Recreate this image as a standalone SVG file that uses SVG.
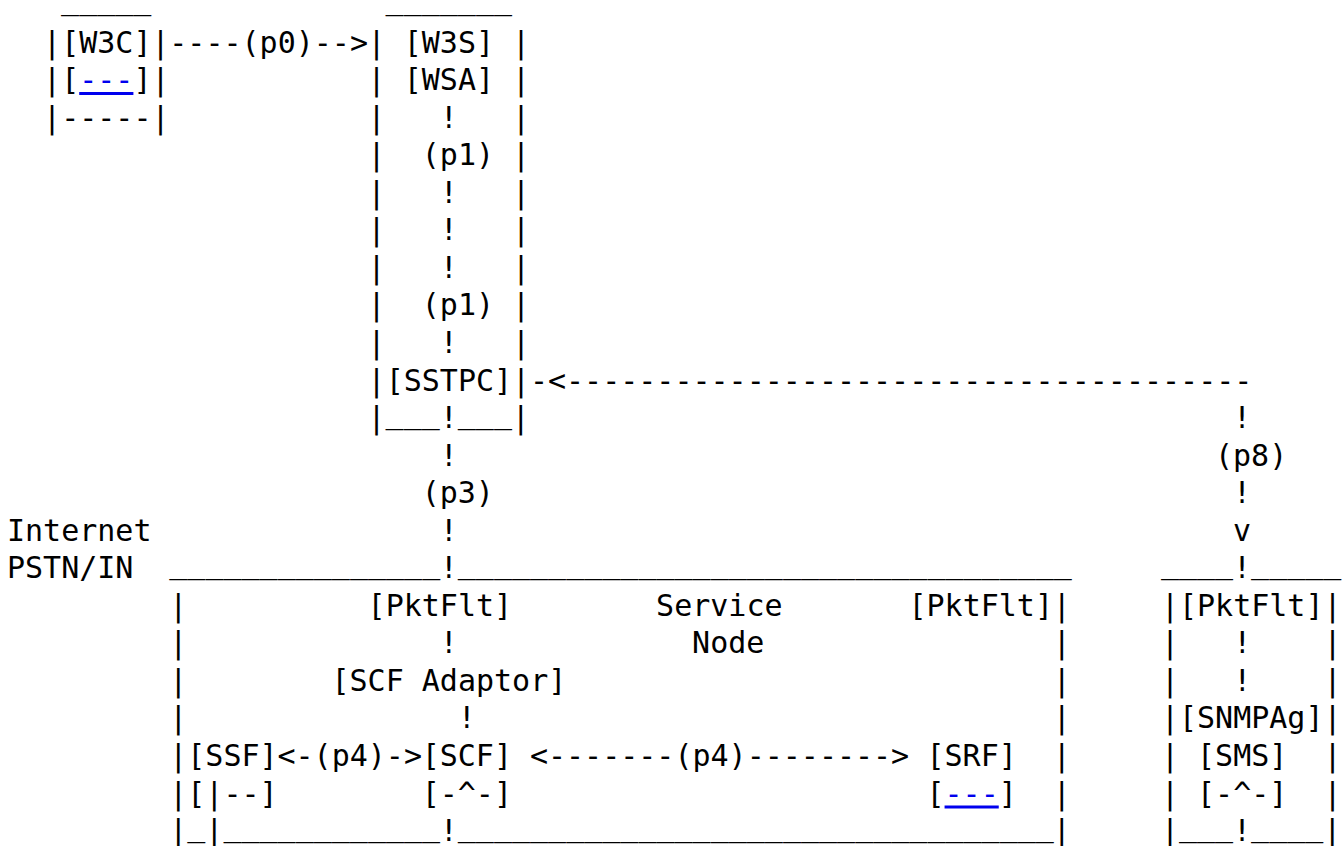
<svg xmlns="http://www.w3.org/2000/svg" width="1343" height="846" viewBox="0 0 1343 846" xml:space="preserve">
<style>
text { font-family: "DejaVu Sans Mono", "Liberation Mono", monospace; font-size: 30px; fill: #000; white-space: pre; }
.link { fill: #0000ee; text-decoration: underline; }
</style>
<rect width="1343" height="846" fill="#fff"/>

<!-- W3C client box -->
<g id="w3c">
<text x="61.1" y="9">_____</text>
<text x="43.1" y="52.5">|[W3C]|</text>
<text x="43.1" y="90">|[<tspan class="link">---</tspan>]|</text>
<text x="43.1" y="127.6">|-----|</text>
</g>

<!-- Web server box: W3S / WSA down to SSTPC -->
<g id="w3s-box">
<text x="385.6" y="9">_______</text>
<text x="367.6" y="52.5">| [W3S] |</text>
<text x="367.6" y="90">| [WSA] |</text>
<text x="367.6" y="127.6">|   !   |</text>
<text x="367.6" y="165.2">|  (p1) |</text>
<text x="367.6" y="202.7">|   !   |</text>
<text x="367.6" y="240.3">|   !   |</text>
<text x="367.6" y="277.8">|   !   |</text>
<text x="367.6" y="315.4">|  (p1) |</text>
<text x="367.6" y="352.9">|   !   |</text>
<g id="sstpc"><text x="367.6" y="390.5">|[SSTPC]|</text></g>
<text x="367.6" y="428">|</text>
<text x="385.6" y="423">___</text>
<text x="439.7" y="428">!</text>
<text x="457.8" y="423">___</text>
<text x="511.8" y="428">|</text>
</g>

<!-- Domain labels -->
<g id="domains">
<text x="7" y="540.7">Internet</text>
<text x="7" y="578.2">PSTN/IN</text>
</g>

<!-- Service node -->
<g id="service-node">
<text x="169.3" y="573.2">_______________</text>
<text x="457.8" y="573.2">__________________________________</text>
<text x="169.3" y="615.8">|<tspan x="169.3" y="653.3">|</tspan><tspan x="169.3" y="690.9">|</tspan><tspan x="169.3" y="728.4">|</tspan><tspan x="169.3" y="766">|</tspan><tspan x="169.3" y="803.5">|</tspan><tspan x="169.3" y="841.1">|</tspan></text>
<text x="1052.7" y="615.8">|<tspan x="1052.7" y="653.3">|</tspan><tspan x="1052.7" y="690.9">|</tspan><tspan x="1052.7" y="728.4">|</tspan><tspan x="1052.7" y="766">|</tspan><tspan x="1052.7" y="803.5">|</tspan><tspan x="1052.7" y="841.1">|</tspan></text>
<text x="656.1" y="615.8">Service</text>
<text x="692.1" y="653.3">Node</text>
<g id="pktflt-in"><text x="367.6" y="615.8">[PktFlt]</text></g>
<g id="pktflt-out"><text x="908.5" y="615.8">[PktFlt]</text></g>
<g id="scf-adaptor"><text x="331.5" y="690.9">[SCF Adaptor]</text></g>
<g id="ssf">
<text x="187.3" y="766">[SSF]</text>
<text x="187.3" y="803.5">[|--]</text>
<text x="187.3" y="836.1">_</text>
<text x="205.3" y="841.1">|</text>
</g>
<g id="scf">
<text x="421.7" y="766">[SCF]</text>
<text x="421.7" y="803.5">[-^-]</text>
</g>
<g id="srf">
<text x="926.5" y="766">[SRF]</text>
<text x="926.5" y="803.5">[<tspan class="link">---</tspan>]</text>
</g>
<text x="223.4" y="836.1">____________</text>
<text x="439.7" y="841.1">!</text>
<text x="457.8" y="836.1">_________________________________</text>
</g>

<!-- Management box: PktFlt / SNMPAg / SMS -->
<g id="sms-node">
<text x="1160.9" y="573.2">____</text>
<text x="1233" y="578.2">!</text>
<text x="1251.1" y="573.2">_____</text>
<text x="1160.9" y="615.8">|[PktFlt]|</text>
<text x="1160.9" y="653.3">|   !    |</text>
<text x="1160.9" y="690.9">|   !    |</text>
<g id="snmpag"><text x="1160.9" y="728.4">|[SNMPAg]|</text></g>
<text x="1160.9" y="766">| [SMS]  |</text>
<text x="1160.9" y="803.5">| [-^-]  |</text>
<text x="1160.9" y="841.1">|</text>
<text x="1179" y="836.1">___</text>
<text x="1233" y="841.1">!</text>
<text x="1251.1" y="836.1">____</text>
<text x="1323.2" y="841.1">|</text>
</g>

<!-- Connectors -->
<g id="connectors">
<text x="169.3" y="52.5">----(p0)--></text>
<text x="529.9" y="390.5">-&lt;--------------------------------------</text>
<text x="1233" y="428">!</text>
<text x="1215" y="465.6">(p8)</text>
<text x="1233" y="503.1">!</text>
<text x="1233" y="540.7">v</text>
<text x="439.7" y="465.6">!</text>
<text x="421.7" y="503.1">(p3)</text>
<text x="439.7" y="540.7">!</text>
<text x="439.7" y="578.2">!</text>
<text x="439.7" y="653.3">!</text>
<text x="457.8" y="728.4">!</text>
<text x="277.5" y="766">&lt;-(p4)-&gt;</text>
<text x="529.9" y="766">&lt;-------(p4)--------&gt;</text>
</g>
</svg>
